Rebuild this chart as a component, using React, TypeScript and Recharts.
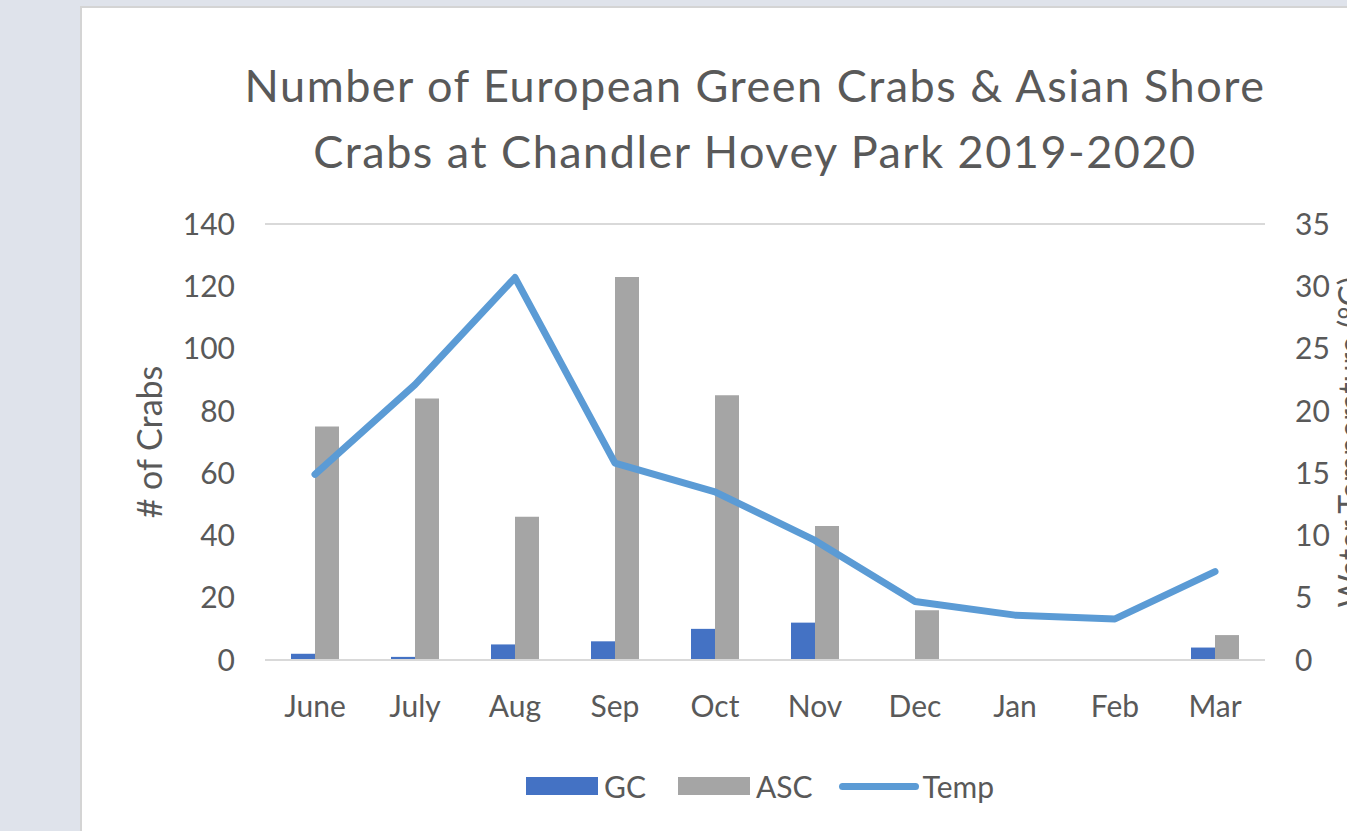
import {
  Bar,
  CartesianGrid,
  ComposedChart,
  Label,
  Line,
  XAxis,
  YAxis,
} from "recharts";

const months = ["June", "July", "Aug", "Sep", "Oct", "Nov", "Dec", "Jan", "Feb", "Mar"];
const greenCrabs = [2, 1, 5, 6, 10, 12, 0, 0, 0, 4];
const asianShoreCrabs = [75, 84, 46, 123, 85, 43, 16, 0, 0, 8];
const waterTemp = [14.9, 22.1, 30.7, 15.8, 13.5, 9.6, 4.7, 3.6, 3.3, 7.1];
const crabTicks = [0, 20, 40, 60, 80, 100, 120, 140];
const tempTicks = [0, 5, 10, 15, 20, 25, 30, 35];

const data = months.map((name, i) => ({
  name,
  GC: greenCrabs[i],
  ASC: asianShoreCrabs[i],
  Temp: waterTemp[i],
}));

const FONT = "Lato, 'Open Sans', sans-serif";
const TEXT = "#595959";
const GC_COLOR = "#4472c4";
const ASC_COLOR = "#a5a5a5";
const TEMP_COLOR = "#5b9bd5";

export default function App() {
  return (
    <div
      style={{
        position: "absolute",
        left: 0,
        top: 0,
        width: 1347,
        height: 831,
        overflow: "hidden",
        background: "#dfe3eb",
        fontFamily: FONT,
      }}>
      <div
        style={{
          position: "absolute",
          left: 80,
          top: 6,
          width: 1400,
          height: 900,
          background: "#fff",
          border: "2px solid #d4d4d4",
        }}
      />
      <div
        style={{
          position: "absolute",
          left: 155,
          top: 52,
          width: 1200,
          textAlign: "center",
          color: TEXT,
          fontSize: 45,
          letterSpacing: 1.5,
          lineHeight: "66px",
        }}>
        Number of European Green Crabs &amp; Asian Shore
        <br />
        Crabs at Chandler Hovey Park 2019-2020
      </div>

      <div style={{ position: "absolute", left: 0, top: 0 }}>
        <ComposedChart
          width={1420}
          height={831}
          data={data}
          margin={{ top: 224, right: 0, bottom: 91, left: 0 }}
          barGap={0}
          barSize={24}>
          <CartesianGrid vertical={false} stroke="#d9d9d9" strokeWidth={2} />
          <XAxis
            dataKey="name"
            height={80}
            axisLine={{ stroke: "#d9d9d9", strokeWidth: 2 }}
            tickLine={false}
            tickSize={0}
            tickMargin={36}
            tick={{ fill: TEXT, fontSize: 30, fontFamily: FONT }}
          />
          <YAxis
            yAxisId="crabs"
            width={265}
            domain={[0, 140]}
            ticks={crabTicks}
            axisLine={false}
            tickLine={false}
            tickSize={0}
            tickMargin={30}
            tick={{ fill: TEXT, fontSize: 30, fontFamily: FONT }}>
            <Label
              value="# of Crabs"
              angle={-90}
              position="insideLeft"
              offset={150}
              style={{ fill: TEXT, fontSize: 34, fontFamily: FONT, textAnchor: "middle" }}
            />
          </YAxis>
          <YAxis
            yAxisId="temp"
            orientation="right"
            width={155}
            domain={[0, 35]}
            ticks={tempTicks}
            axisLine={false}
            tickLine={false}
            tickSize={0}
            tickMargin={30}
            tick={{ fill: TEXT, fontSize: 30, fontFamily: FONT }}>
            <Label
              value="Water Temperature (°C)"
              angle={-90}
              position="insideLeft"
              offset={86}
              style={{ fill: TEXT, fontSize: 32, fontFamily: FONT, textAnchor: "middle" }}
            />
          </YAxis>
          <Bar yAxisId="crabs" dataKey="GC" fill={GC_COLOR} isAnimationActive={false} />
          <Bar yAxisId="crabs" dataKey="ASC" fill={ASC_COLOR} isAnimationActive={false} />
          <Line
            yAxisId="temp"
            type="linear"
            dataKey="Temp"
            stroke={TEMP_COLOR}
            strokeWidth={7}
            strokeLinecap="round"
            strokeLinejoin="round"
            dot={false}
            activeDot={false}
            isAnimationActive={false}
          />
        </ComposedChart>
      </div>

      <div
        style={{
          position: "absolute",
          left: 526,
          top: 766,
          display: "flex",
          alignItems: "center",
          color: TEXT,
          fontSize: 30,
          height: 40,
        }}>
        <span style={{ width: 72, height: 18, background: GC_COLOR, marginRight: 6 }} />
        <span style={{ marginRight: 32 }}>GC</span>
        <span style={{ width: 72, height: 18, background: ASC_COLOR, marginRight: 6 }} />
        <span style={{ marginRight: 26 }}>ASC</span>
        <span
          style={{ width: 80, height: 7, borderRadius: 4, background: TEMP_COLOR, marginRight: 4 }}
        />
        <span>Temp</span>
      </div>
    </div>
  );
}
